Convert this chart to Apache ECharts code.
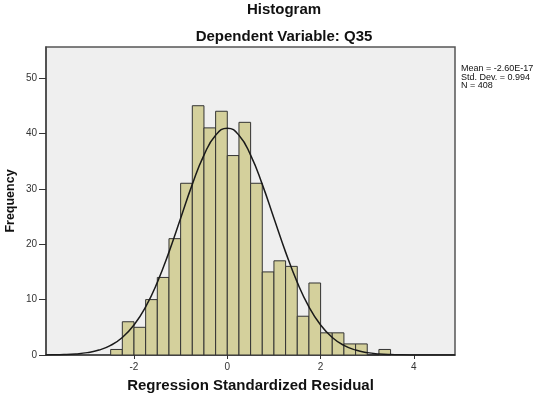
<!DOCTYPE html>
<html>
<head>
<meta charset="utf-8">
<script src="https://cdn.jsdelivr.net/npm/echarts@6/dist/echarts.min.js"></script>
<style>html,body{margin:0;padding:0;background:#fff}#c{width:550px;height:397px}</style>
</head>
<body>
<div id="c"></div>
<script>
// Histogram bins (left edge, right edge) and frequencies
var binStart = [-2.5,-2.25,-2.0,-1.75,-1.5,-1.25,-1.0,-0.75,-0.5,-0.25,0,0.25,0.5,0.75,1.0,1.25,1.5,1.75,2.0,2.25,2.5,2.75,3.0,3.25];
var binEnd   = [-2.25,-2.0,-1.75,-1.5,-1.25,-1.0,-0.75,-0.5,-0.25,0,0.25,0.5,0.75,1.0,1.25,1.5,1.75,2.0,2.25,2.5,2.75,3.0,3.25,3.5];
var counts   = [1,6,5,10,14,21,31,45,41,44,36,42,31,15,17,16,7,13,4,4,2,2,0,1];

// Normal curve
var curveX = [-3.89,-3.75,-3.5,-3.25,-3.0,-2.75,-2.5,-2.25,-2.0,-1.75,-1.5,-1.25,-1.0,-0.75,-0.5,-0.25,0,0.25,0.5,0.75,1.0,1.25,1.5,1.75,2.0,2.25,2.5,2.75,3.0,3.25,3.5,3.75,4.0,4.25,4.5,4.88];
var curveY = [0.02,0.03,0.08,0.2,0.43,0.89,1.73,3.16,5.41,8.69,13.11,18.57,24.68,30.8,36.08,39.67,40.94,39.67,36.08,30.8,24.68,18.57,13.11,8.69,5.41,3.16,1.73,0.89,0.43,0.2,0.08,0.03,0.01,0.0,0.0,0.0];

var xTicks = [-2, 0, 2, 4];
var yTicks = [0, 10, 20, 30, 40, 50];

var titleText = 'Histogram';
var subtitleText = 'Dependent Variable: Q35';
var xName = 'Regression Standardized Residual';
var yName = 'Frequency';
var statsLines = ['Mean = -2.60E-17', 'Std. Dev. = 0.994', 'N = 408'];

var barData = binStart.map(function (s, i) { return [s, binEnd[i], counts[i]]; });
var lineData = curveX.map(function (x, i) { return [x, curveY[i]]; });

var FONT = 'Liberation Sans, Arial, sans-serif';
var chart = echarts.init(document.getElementById('c'), null, {renderer: 'canvas'});
chart.setOption({
  animation: false,
  backgroundColor: '#ffffff',
  textStyle: {fontFamily: FONT},
  grid: {left: 46, right: 95, top: 47, bottom: 42, containLabel: false, outerBoundsMode: 'none',
         show: true, backgroundColor: '#efefef', borderColor: '#555', borderWidth: 1.5},
  xAxis: {
    type: 'value', min: -3.886, max: 4.881,
    axisLine: {show: true, onZero: false, lineStyle: {color: '#444', width: 1.5}},
    axisTick: {show: true, length: 4, customValues: xTicks, lineStyle: {color: '#333'}},
    axisLabel: {customValues: xTicks, fontSize: 10, color: '#333', margin: 7},
    splitLine: {show: false}
  },
  yAxis: {
    type: 'value', min: 0, max: 55.6,
    axisLine: {show: true, onZero: false, lineStyle: {color: '#444', width: 1.5}},
    axisTick: {show: true, length: 7, customValues: yTicks, lineStyle: {color: '#333'}},
    axisLabel: {customValues: yTicks, fontSize: 10, color: '#333', margin: 9},
    splitLine: {show: false}
  },
  series: [
    {
      type: 'custom',
      data: barData,
      renderItem: function (params, api) {
        var p0 = api.coord([api.value(0), 0]);
        var p1 = api.coord([api.value(1), api.value(2)]);
        return {
          type: 'rect',
          shape: {x: p0[0], y: p1[1], width: p1[0] - p0[0], height: p0[1] - p1[1]},
          style: {fill: '#d4d09c', stroke: '#333', lineWidth: 1}
        };
      },
      encode: {x: [0, 1], y: 2},
      z: 2
    },
    {
      type: 'line',
      data: lineData,
      smooth: true,
      showSymbol: false,
      lineStyle: {color: '#1a1a1a', width: 1.5},
      z: 3
    }
  ],
  graphic: [
    {type: 'text', x: 284, y: 10, style: {text: titleText, fontSize: 15, fontWeight: 'bold', fill: '#111', align: 'center', verticalAlign: 'middle', fontFamily: FONT}},
    {type: 'text', x: 284, y: 37, style: {text: subtitleText, fontSize: 15, fontWeight: 'bold', fill: '#111', align: 'center', verticalAlign: 'middle', fontFamily: FONT}},
    {type: 'text', x: 250.5, y: 386, style: {text: xName, fontSize: 15, fontWeight: 'bold', fill: '#111', align: 'center', verticalAlign: 'middle', fontFamily: FONT}},
    {type: 'text', x: 11, y: 201, rotation: Math.PI / 2, style: {text: yName, fontSize: 12.5, fontWeight: 'bold', fill: '#111', align: 'center', verticalAlign: 'middle', fontFamily: FONT}},
    {type: 'text', x: 461, y: 64, style: {text: statsLines.join('\n'), fontSize: 9, lineHeight: 8.8, fill: '#111', fontFamily: FONT}}
  ]
});
</script>
</body>
</html>
